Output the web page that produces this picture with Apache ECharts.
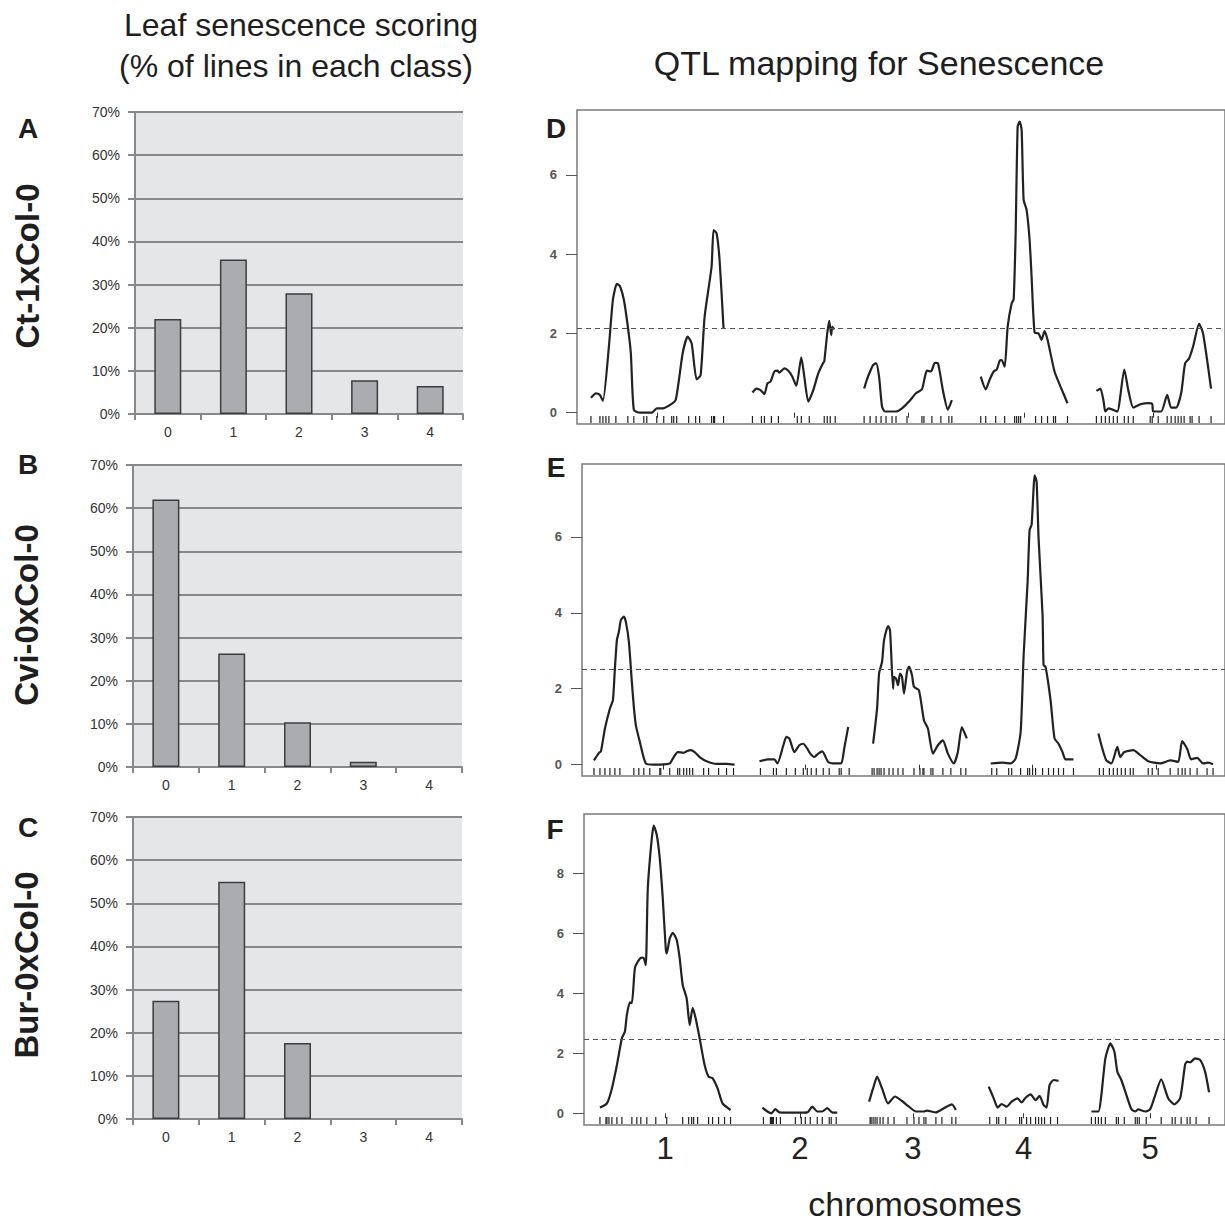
<!DOCTYPE html>
<html><head><meta charset="utf-8">
<script src="https://cdn.jsdelivr.net/npm/echarts@6/dist/echarts.min.js"></script>
<style>html,body{margin:0;padding:0;background:#fff}#c{width:1225px;height:1222px}</style>
</head><body><div id="c"></div>
<script>
const FONT = '"Liberation Sans", Arial, Helvetica, sans-serif';

// ---- Leaf senescence scoring (% of lines in each class) ----
const classes = ['0', '1', '2', '3', '4'];
const pctCt1 = [22.0, 35.8, 28.0, 7.8, 6.5];
const pctCvi0 = [62.0, 26.3, 10.4, 1.2, 0];
const pctBur0 = [27.4, 55.0, 17.6, 0, 0];
const crossNames = ['Ct-1xCol-0', 'Cvi-0xCol-0', 'Bur-0xCol-0'];
const chromosomeNames = ['1', '2', '3', '4', '5'];

// ---- QTL scans (map position, LOD) per chromosome ----
const D_pos = [
  [14,19,23,26,32,36,40,43,47,51,54,57,63,75,80,86,93,99,106,111,115,120,124,128,135,137,140,143,147],
  [176,180,184,188,191,194,198,201,203,208,212,216,220,225,228,232,237,242,247,248,251,253,255,256,258],
  [288,291,294,297,300,303,306,309,320,326,333,340,346,349,351,355,359,362,367,372,376],
  [405,410,414,418,421,424,426,429,432,436,438,440,442,444,446,448,451,454,456,459,463,466,469,472,479,485,492],
  [521,525,528,530,533,538,542,549,553,558,566,573,577,578,586,592,596,601,606,610,614,618,624,628,636]
];
const D_lod = [
  [0.38,0.49,0.45,0.30,1.67,2.85,3.25,3.20,2.85,2.17,1.50,0.07,0,0,0.11,0.11,0.19,0.32,1.50,1.92,1.75,0.84,0.95,2.42,3.69,4.61,4.53,3.86,2.13],
  [0.51,0.61,0.57,0.47,0.74,0.78,1.04,1.06,1.01,1.12,1.06,0.91,0.68,1.40,0.91,0.28,0.57,0.99,1.26,1.29,2.00,2.32,1.96,2.17,2.10],
  [0.61,0.85,1.04,1.20,1.25,0.91,0.15,0.03,0.03,0.11,0.28,0.49,0.59,0.91,1.06,1.04,1.26,1.25,0.57,0.08,0.32],
  [0.91,0.59,0.84,1.04,1.09,1.31,1.33,1.16,2.17,2.76,2.86,4.53,7.22,7.35,7.14,5.37,5.12,4.36,3.43,2.02,2.00,1.84,2.06,1.84,1.04,0.66,0.24],
  [0.55,0.61,0.32,0.03,0.11,0.07,0.03,1.09,0.57,0.13,0.22,0.24,0.22,0.03,0.03,0.45,0.13,0.13,0.49,1.25,1.37,1.67,2.24,2.00,0.61]
];
const D_markers = [
  [14,23,26,29,32,39,51,57,67,70,80,87,95,97,100,112,119,123,135,137,138,147],
  [176,185,188,195,202,221,225,233,248,251,254,259],
  [288,294,300,305,310,316,320,331,346,348,356,365,373,376],
  [405,410,420,429,439,441,443,445,460,466,472,478,480,492],
  [521,526,530,534,538,542,549,553,558,575,577,583,592,596,600,603,606,609,615,617,624,636]
];
const D_threshold = 2.13;

const E_pos = [
  [12,17,19,23,28,31,33,35,37,39,42,44,47,50,52,54,58,64,72,88,92,96,102,105,109,113,118,125,135,145,153],
  [178,187,193,196,202,205,208,213,218,222,226,229,233,237,241,247,254,260,263,267],
  [292,296,298,301,303,307,309,312,313,315,317,319,321,323,326,328,331,333,338,343,347,352,357,362,367,373,377,381,386],
  [410,422,430,435,440,443,447,449,451,453,454,456,458,462,463,465,470,474,478,482,485,493],
  [518,522,526,531,537,540,544,553,560,568,580,590,598,602,607,611,617,623,628,633]
];
const E_lod = [
  [0.11,0.31,0.35,0.95,1.48,1.70,2.53,3.28,3.50,3.81,3.90,3.76,3.24,2.18,1.52,1.04,0.60,0.03,0,0.03,0.20,0.33,0.31,0.35,0.38,0.33,0.20,0.09,0.02,0.02,0],
  [0.09,0.14,0.14,0.03,0.51,0.73,0.69,0.33,0.51,0.55,0.42,0.29,0.20,0.29,0.35,0.07,0.03,0.03,0.42,0.99],
  [0.55,1.48,2.40,2.71,3.28,3.65,3.54,2.00,2.31,2.27,2.09,2.40,2.31,1.87,2.44,2.58,2.36,2.05,1.96,1.17,0.95,0.29,0.51,0.64,0.29,0.03,0.33,0.99,0.69],
  [0.03,0.05,0.03,0.16,0.86,2.88,4.82,6.18,6.32,7.28,7.62,7.46,5.96,3.94,2.62,2.58,1.70,0.69,0.55,0.33,0.14,0.14],
  [0.82,0.42,0.11,0.03,0.47,0.20,0.33,0.38,0.25,0.09,0.03,0.11,0.07,0.62,0.42,0.14,0.18,0.03,0.05,0.01]
];
const E_markers = [
  [12,18,23,28,33,38,52,57,62,68,78,79,88,96,98,102,105,108,111,122,127,137,145,152],
  [179,192,195,205,214,222,226,230,235,242,248,258,260,268],
  [291,293,296,298,300,303,308,312,317,322,333,339,342,343,350,352,362,370,380,385],
  [411,416,428,431,440,447,449,452,455,462,468,473,478,483,493],
  [519,523,529,533,537,541,545,550,553,568,572,578,590,598,602,605,610,617,627,633]
];
const E_threshold = 2.51;

const F_pos = [
  [16,23,28,33,38,41,43,46,48,51,54,58,60,62,64,68,70,73,76,79,82,83,86,89,93,96,99,103,106,109,112,116,121,125,129,134,139,147],
  [179,184,188,192,196,213,224,229,234,239,244,249,254],
  [286,290,294,299,305,312,319,326,333,341,344,353,361,369,373],
  [406,411,415,419,424,429,435,439,443,448,453,457,461,464,467,471,476],
  [509,516,519,523,528,532,535,539,543,549,553,556,563,568,573,579,586,592,598,603,605,608,613,618,623,627]
];
const F_lod = [
  [0.19,0.33,0.83,1.61,2.50,2.72,3.28,3.70,3.67,4.83,5.06,5.19,5.17,4.94,7.50,9.17,9.59,9.28,8.50,7.17,5.50,5.33,5.83,6.02,5.78,5.17,4.28,3.83,2.94,3.52,3.17,2.50,1.61,1.22,1.17,0.83,0.33,0.11],
  [0.19,0.06,0,0.14,0.03,0.02,0.03,0.22,0.06,0.06,0.17,0.03,0.02],
  [0.39,0.83,1.22,0.83,0.33,0.56,0.41,0.22,0.06,0.06,0.09,0.03,0.17,0.30,0.11],
  [0.89,0.50,0.19,0.31,0.22,0.39,0.50,0.36,0.52,0.63,0.44,0.58,0.28,0.19,0.94,1.11,1.08],
  [0.06,0.06,0.61,1.83,2.33,2.06,1.39,1.11,0.72,0.14,0.06,0.13,0.06,0.14,0.61,1.13,0.50,0.30,0.50,1.63,1.72,1.70,1.83,1.78,1.39,0.70]
];
const F_markers = [
  [16,22,23,25,28,33,38,48,53,57,63,72,83,99,105,108,110,114,125,129,135,141,147],
  [180,187,188,189,190,193,197,212,218,222,227,234,239,246,248,253],
  [287,288,290,292,294,297,300,305,311,324,331,336,341,343,353,359,369,373],
  [407,414,416,423,437,439,444,448,453,456,459,462,468,475],
  [509,513,516,519,523,534,536,542,553,555,557,564,579,590,593,599,605,608,614,627]
];
const F_threshold = 2.48;

// ---------------- layout ----------------
const barPanels = [
  { vals: pctCt1, grid: { left: 135, top: 112, width: 328, height: 302 } },
  { vals: pctCvi0, grid: { left: 133, top: 465, width: 329, height: 302 } },
  { vals: pctBur0, grid: { left: 133, top: 817, width: 329, height: 302 } }
];
const qtlPanels = [
  { pos: D_pos, lod: D_lod, markers: D_markers, thr: D_threshold,
    grid: { left: 577, top: 110, width: 650, height: 314 }, yMin: -0.285, yMax: 7.64, yTicks: [0, 2, 4, 6], labels: false },
  { pos: E_pos, lod: E_lod, markers: E_markers, thr: E_threshold,
    grid: { left: 582, top: 464, width: 645, height: 312 }, yMin: -0.30, yMax: 7.92, yTicks: [0, 2, 4, 6], labels: false },
  { pos: F_pos, lod: F_lod, markers: F_markers, thr: F_threshold,
    grid: { left: 584, top: 814, width: 643, height: 311 }, yMin: -0.39, yMax: 9.98, yTicks: [0, 2, 4, 6, 8], labels: true }
];

const grids = [], xAxes = [], yAxes = [], series = [];
const gridColor = '#888888';

barPanels.forEach((p, i) => {
  grids.push(Object.assign({ show: true, backgroundColor: '#e5e6e8', borderWidth: 0 }, p.grid));
  xAxes.push({
    type: 'category', gridIndex: i, data: classes,
    axisLine: { lineStyle: { color: gridColor, width: 2 } },
    axisTick: { show: true, alignWithLabel: false, length: 6, lineStyle: { color: gridColor, width: 2 } },
    axisLabel: { fontSize: 14, color: '#333', margin: 11, fontFamily: FONT }
  });
  yAxes.push({
    type: 'value', gridIndex: i, min: 0, max: 70, interval: 10,
    axisLine: { show: true, lineStyle: { color: gridColor, width: 2 } },
    axisTick: { show: true, length: 7, lineStyle: { color: gridColor, width: 2 } },
    axisLabel: { formatter: '{value}%', fontSize: 14, color: '#333', margin: 15, fontFamily: FONT },
    splitLine: { show: true, lineStyle: { color: gridColor, width: 2 } }
  });
  series.push({
    type: 'bar', xAxisIndex: i, yAxisIndex: i,
    data: p.vals.map(v => (v > 0 ? v : '-')),
    barWidth: 27,
    itemStyle: { color: '#abacb0', borderColor: '#3d3d3d', borderWidth: 1.5 },
    silent: true
  });
});

qtlPanels.forEach((p, k) => {
  const gi = 3 + k;
  const centers = p.markers.map(m => (m[0] + m[m.length - 1]) / 2);
  grids.push(Object.assign({ show: true, backgroundColor: 'transparent', borderColor: '#7a7a7a', borderWidth: 1.5 }, p.grid));
  xAxes.push({
    type: 'value', gridIndex: gi, min: 0, max: p.grid.width,
    axisLine: { show: false },
    splitLine: { show: false },
    axisTick: { show: true, customValues: centers, length: 5, lineStyle: { color: '#333', width: 1 } },
    axisLabel: {
      show: p.labels, customValues: centers, fontSize: 31, color: '#222', margin: 8, fontFamily: FONT,
      formatter: v => chromosomeNames[centers.indexOf(v)] || ''
    }
  });
  yAxes.push({
    type: 'value', gridIndex: gi, min: p.yMin, max: p.yMax,
    axisLine: { show: false },
    splitLine: { show: false },
    axisTick: { show: true, customValues: p.yTicks, length: 11, lineStyle: { color: '#555', width: 1 } },
    axisLabel: { customValues: p.yTicks, fontSize: 13, fontWeight: 'bold', color: '#555', margin: 20, fontFamily: FONT }
  });
  p.pos.forEach((arr, c) => {
    const s = {
      type: 'line', xAxisIndex: gi, yAxisIndex: gi,
      data: arr.map((x, i) => [x, p.lod[c][i]]),
      showSymbol: false, smooth: 0.2, silent: true,
      lineStyle: { color: '#222222', width: 2.2 }
    };
    if (c === 0) {
      s.markLine = {
        silent: true, symbol: ['none', 'none'], label: { show: false },
        lineStyle: { type: [5, 4], color: '#555', width: 1 },
        data: [{ yAxis: p.thr }]
      };
    }
    series.push(s);
  });
  const yMin = p.yMin;
  series.push({
    type: 'custom', xAxisIndex: gi, yAxisIndex: gi, silent: true,
    data: p.markers.flat().map(x => [x, 0]),
    encode: { x: 0, y: 1 },
    renderItem: (params, api) => {
      const pt = api.coord([api.value(0), yMin]);
      return { type: 'line', shape: { x1: pt[0], y1: pt[1] - 1, x2: pt[0], y2: pt[1] - 8 },
        style: { stroke: '#222', lineWidth: 1.2 } };
    }
  });
});

function txt(text, x, y, size, weight, rot) {
  return {
    type: 'text', x: x, y: y, rotation: rot || 0, silent: true,
    style: {
      text: text, fill: '#1e1e1e', fontSize: size, fontWeight: weight || 'normal', fontFamily: FONT,
      align: 'center', verticalAlign: 'middle', textAlign: 'center', textVerticalAlign: 'middle'
    }
  };
}

const graphics = [
  txt('Leaf senescence scoring', 301, 25, 32),
  txt('(% of lines in each class)', 296, 66, 32),
  txt('QTL mapping for Senescence', 879, 63, 34),
  txt('chromosomes', 915, 1204, 34),
  txt('A', 28, 128, 28, 'bold'),
  txt('B', 28, 464, 28, 'bold'),
  txt('C', 28, 827, 28, 'bold'),
  txt('D', 556, 128, 28, 'bold'),
  txt('E', 556, 467, 28, 'bold'),
  txt('F', 555, 829, 28, 'bold'),
  txt(crossNames[0], 27, 266, 33, 'bold', Math.PI / 2),
  txt(crossNames[1], 26, 615, 33, 'bold', Math.PI / 2),
  txt(crossNames[2], 26, 965, 33, 'bold', Math.PI / 2)
];

const chart = echarts.init(document.getElementById('c'), null, { renderer: 'svg' });
chart.setOption({
  animation: false,
  backgroundColor: '#ffffff',
  grid: grids, xAxis: xAxes, yAxis: yAxes, series: series,
  graphic: graphics
});
</script>
</body></html>
